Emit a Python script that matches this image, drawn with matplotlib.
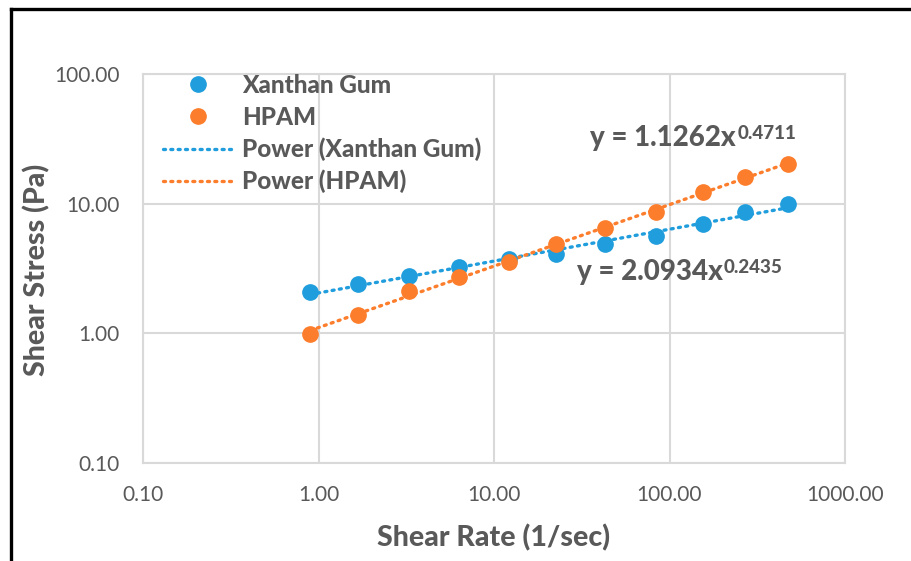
import numpy as np
import matplotlib
matplotlib.use("Agg")
import matplotlib.pyplot as plt
from matplotlib.lines import Line2D
from matplotlib.ticker import FixedLocator, FuncFormatter, NullLocator

plt.rcParams['font.family'] = ['Lato', 'DejaVu Sans']

# ---- data ----
shear_rate = [0.90, 1.67, 3.27, 6.35, 12.2, 22.7, 43.0, 83.5, 155.0, 270.0, 475.0]
xanthan_stress = [2.07, 2.41, 2.78, 3.24, 3.73, 4.11, 4.85, 5.66, 7.01, 8.67, 10.0]
hpam_stress = [0.99, 1.39, 2.13, 2.74, 3.58, 4.91, 6.48, 8.67, 12.2, 16.0, 20.4]
series_names = ["Xanthan Gum", "HPAM"]
eq_bases = ["y = 2.0934x", "y = 1.1262x"]
eq_exps = ["0.2435", "0.4711"]
ticks = [0.1, 1, 10, 100, 1000]
y_ticks = [0.1, 1, 10, 100]

blue = "#1f9ddc"
orange = "#fc7d2b"
gray_txt = "#595959"
grid_c = "#d9d9d9"
W = 'black'

fig = plt.figure(figsize=(9.11, 5.61), dpi=100)
ax = fig.add_axes([143/911, 1-463/561, (845-143)/911, (463-74)/561])

x = np.array(shear_rate)
for ys, col in [(xanthan_stress, blue), (hpam_stress, orange)]:
    ys = np.array(ys)
    b, a = np.polyfit(np.log10(x), np.log10(ys), 1)
    xf = np.array([x.min(), x.max()])
    yf = 10**a * xf**b
    ax.plot(xf, yf, linestyle=(0, (0.6, 1.6)), dash_capstyle='round', color=col, lw=2.4, zorder=3)
    ax.plot(x, ys, 'o', color=col, ms=11, mec=col, zorder=4)

ax.set_xscale('log')
ax.set_yscale('log')
ax.set_xlim(0.1, 1000)
ax.set_ylim(0.1, 100)
ax.xaxis.set_major_locator(FixedLocator(ticks))
ax.yaxis.set_major_locator(FixedLocator(y_ticks))
ax.xaxis.set_minor_locator(NullLocator())
ax.yaxis.set_minor_locator(NullLocator())
fmt = FuncFormatter(lambda v, p: f"{v:.2f}")
ax.xaxis.set_major_formatter(fmt)
ax.yaxis.set_major_formatter(fmt)
ax.grid(True, color=grid_c, lw=1.5)
ax.set_axisbelow(True)
for s in ax.spines.values():
    s.set_color(grid_c)
    s.set_linewidth(1.5)
ax.tick_params(axis='x', length=0, labelsize=15, labelcolor=gray_txt, pad=16)
ax.tick_params(axis='y', length=0, labelsize=15, labelcolor=gray_txt, pad=17)

fig.text(494/911, 1-538/561, "Shear Rate (1/sec)", fontsize=20.5, fontweight=W, color=gray_txt,
         ha='center', va='center')
fig.text(37/911, 1-270/561, "Shear Stress (Pa)", fontsize=20.5, fontweight=W, color=gray_txt,
         ha='center', va='center', rotation=90)

for (xa, ya), base, ex in zip([(0.618, 0.492), (0.637, 0.836)], eq_bases, eq_exps):
    t = ax.text(xa, ya, base, transform=ax.transAxes, fontsize=20, fontweight=W,
                color=gray_txt, va='center', ha='left')
    ax.annotate(ex, xy=(1, 1.0), xycoords=t, xytext=(1, 0), textcoords='offset points',
                fontsize=13.5, fontweight=W, color=gray_txt, va='top', ha='left')

leg_handles = [
    Line2D([], [], ls='none', marker='o', ms=11, color=blue),
    Line2D([], [], ls='none', marker='o', ms=11, color=orange),
    Line2D([], [], linestyle=(0, (0.6, 1.6)), dash_capstyle='round', color=blue, lw=2.4),
    Line2D([], [], linestyle=(0, (0.6, 1.6)), dash_capstyle='round', color=orange, lw=2.4),
]
leg_labels = [series_names[0], series_names[1], "Power (" + series_names[0] + ")", "Power (" + series_names[1] + ")"]
leg = ax.legend(leg_handles, leg_labels, loc='upper left', bbox_to_anchor=(0.015, 1.025), frameon=False,
                fontsize=17.5, handlelength=2.9, handletextpad=0.35, labelspacing=0.36, borderaxespad=0)
for t in leg.get_texts():
    t.set_color(gray_txt)
    t.set_fontweight(W)

# outer frame
fig.add_artist(Line2D([11/911, 11/911], [0, 1-9/561], color='black', lw=2.4, transform=fig.transFigure))
fig.add_artist(Line2D([11/911, 1], [1-9/561, 1-9/561], color='black', lw=2.4, transform=fig.transFigure))

fig.savefig("out.png", dpi=100)
